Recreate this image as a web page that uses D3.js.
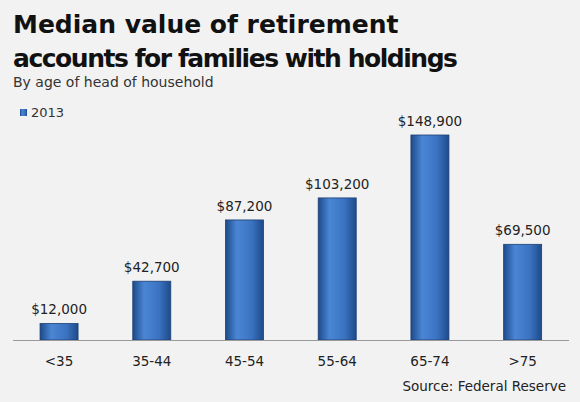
<!DOCTYPE html><html><head><meta charset="utf-8"><script src="https://cdn.jsdelivr.net/npm/d3@7"></script>
<style>body{margin:0;background:#f2f2f2}</style></head><body><svg id="c" width="580" height="402"></svg>
<script>
const categories=["<35","35-44","45-54","55-64","65-74",">75"];
const values=[12000,42700,87200,103200,148900,69500];
const labels=["$12,000","$42,700","$87,200","$103,200","$148,900","$69,500"];
const svg=d3.select("#c");
svg.append("rect").attr("width",580).attr("height",402).attr("fill","#f2f2f2");
const f="'DejaVu Sans', sans-serif";
svg.append("text").attr("x",13).attr("y",33).text("Median value of retirement").attr("font-family",f).attr("font-weight","bold").attr("font-size",25).attr("fill","#111");
svg.append("text").attr("x",13).attr("y",67).text("accounts for families with holdings").attr("font-family",f).attr("font-weight","bold").attr("font-size",25).attr("fill","#111").attr("textLength",445);
svg.append("text").attr("x",13).attr("y",87).text("By age of head of household").attr("font-family",f).attr("font-size",14).attr("fill","#333");
const defs=svg.append("defs");
const g=defs.append("linearGradient").attr("id","bg");
[["0","#1d4a8a"],["0.3","#4a86d4"],["0.7","#3a72c0"],["1","#1d4a8a"]].forEach(s=>g.append("stop").attr("offset",s[0]).attr("stop-color",s[1]));
svg.append("rect").attr("x",20).attr("y",109).attr("width",7).attr("height",7).attr("fill","url(#bg)");
svg.append("text").attr("x",31).attr("y",117).text("2013").attr("font-family",f).attr("font-size",13).attr("fill","#333");
const x=d3.scaleBand().domain(categories).range([12.7,569]).paddingInner(0.59).paddingOuter(0.295);
const y=d3.scaleLinear().domain([0,148900]).range([340,135]);
svg.selectAll(".b").data(values).enter().append("rect").attr("x",(d,i)=>x(categories[i])).attr("width",x.bandwidth()).attr("y",d=>y(d)).attr("height",d=>340-y(d)).attr("fill","url(#bg)").attr("stroke","#1d3f75").attr("stroke-width",0.8);
svg.selectAll(".l").data(values).enter().append("text").attr("x",(d,i)=>x(categories[i])+x.bandwidth()/2).attr("y",d=>y(d)-9).attr("text-anchor","middle").text((d,i)=>labels[i]).attr("font-family",f).attr("font-size",13.5).attr("fill","#222");
svg.append("line").attr("x1",13).attr("x2",569).attr("y1",340.5).attr("y2",340.5).attr("stroke","#999");
const ax=svg.append("g").attr("transform","translate(0,340)").call(d3.axisBottom(x).tickSize(0).tickPadding(16));
ax.select(".domain").remove();
ax.selectAll("text").attr("font-family",f).attr("font-size",13.5).attr("fill","#222");
svg.append("text").attr("x",566).attr("y",391).attr("text-anchor","end").text("Source: Federal Reserve").attr("font-family",f).attr("font-size",13.5).attr("fill","#222");
</script></body></html>
